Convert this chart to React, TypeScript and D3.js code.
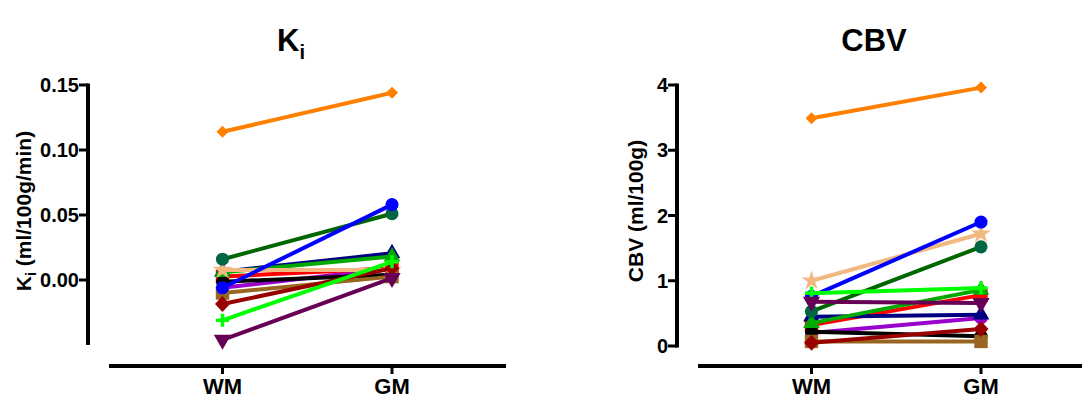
import React from "react";
import * as d3 from "d3";

// groups on the x axis
const groups = ["WM", "GM"];

// series: colour, marker, values for [WM, GM]
const seriesNames = ["s1", "s2", "s3", "s4", "s5", "s6", "s7", "s8", "s9", "s10", "s11", "s12", "s13"];
const lineColors = ["#9900cc", "#ff0000", "#000000", "#996622", "#000080", "#00aa00", "#f2b882", "#006600", "#0000ff", "#990000", "#00ff00", "#660055", "#ff8000"];
const markerColors = ["#9900cc", "#ff0000", "#000000", "#996622", "#000080", "#00aa00", "#f2b882", "#006644", "#0000ff", "#990000", "#00ff00", "#660055", "#ff8000"];
const markers = ["circle", "square", "circle", "square", "triangle", "triangle", "star", "circle", "circle", "diamond", "plus", "triangleDown", "diamondSmall"];

const kiValues: number[][] = [
  [-0.006, 0.009],
  [0.0026, 0.009],
  [-0.0013, 0.004],
  [-0.01, 0.0026],
  [0.0064, 0.0205],
  [0.006, 0.018],
  [0.0077, 0.0077],
  [0.016, 0.051],
  [-0.006, 0.058],
  [-0.0185, 0.009],
  [-0.031, 0.014],
  [-0.046, 0.0015],
  [0.114, 0.144],
];
const cbvValues: number[][] = [
  [0.2, 0.43],
  [0.32, 0.78],
  [0.22, 0.15],
  [0.07, 0.07],
  [0.45, 0.48],
  [0.35, 0.86],
  [1.0, 1.72],
  [0.53, 1.52],
  [0.76, 1.9],
  [0.05, 0.26],
  [0.81, 0.89],
  [0.68, 0.66],
  [3.49, 3.96],
];

const kiTicks = [0, 0.05, 0.1, 0.15];
const cbvTicks = [0, 1, 2, 3, 4];

const FONT = "'Liberation Sans', Arial, sans-serif";

function diamond(r: number, w: number): string {
  return `M0,${-r}L${w},0L0,${r}L${-w},0Z`;
}

function markerPath(kind: string): string {
  switch (kind) {
    case "circle": return d3.symbol(d3.symbolCircle, 135)()!;
    case "square": return d3.symbol(d3.symbolSquare, 180)()!;
    case "triangle": return d3.symbol(d3.symbolTriangle, 120)()!;
    case "triangleDown": return d3.symbol(d3.symbolTriangle, 130)()!;
    case "star": return d3.symbol(d3.symbolStar, 120)()!;
    case "diamond": return diamond(8, 7.5);
    case "diamondSmall": return diamond(6, 6);
    default: return "";
  }
}

function Marker({ kind, x, y, color }: { kind: string; x: number; y: number; color: string }) {
  if (kind === "plus") {
    return (
      <g transform={`translate(${x},${y})`} stroke={color} strokeWidth={3.5}>
        <line x1={-6.5} x2={6.5} y1={0} y2={0} />
        <line x1={0} x2={0} y1={-6.5} y2={6.5} />
      </g>
    );
  }
  const rot = kind === "triangleDown" ? " rotate(180)" : "";
  return <path d={markerPath(kind)} transform={`translate(${x},${y})${rot}`} fill={color} />;
}

type PanelProps = {
  left: number;
  values: number[][];
  domain: [number, number];
  ticks: number[];
  fmt: (v: number) => string;
  yLabel: React.ReactNode;
  title: React.ReactNode;
  titleX: number;
};

function Panel({ left, values, domain, ticks, fmt, yLabel, title, titleX }: PanelProps) {
  const axisX = left;
  const y = d3.scaleLinear().domain(domain).range([domain[0] < 0 ? 345 : 346, 85]);
  const x = d3.scalePoint<string>().domain(groups).range([axisX + 134.5, axisX + 304]);
  const xAxisStart = axisX + 21;
  const xAxisEnd = axisX + 418;
  const line = d3.line<[number, number]>().x(d => d[0]).y(d => d[1]);

  return (
    <g>
      <text x={titleX} y={51} textAnchor="middle" fontFamily={FONT} fontWeight="bold" fontSize={31}>{title}</text>

      {/* y axis */}
      <line x1={axisX} x2={axisX} y1={y.range()[1] - 1.5} y2={y.range()[0] + (domain[0] < 0 ? 0 : 1.5)} stroke="#000" strokeWidth={4} />
      {ticks.map(t => (
        <g key={t} transform={`translate(0,${y(t)})`}>
          <line x1={axisX - 9} x2={axisX} stroke="#000" strokeWidth={3} />
          <text x={axisX - 9} dy="0.36em" textAnchor="end" fontFamily={FONT} fontWeight="bold" fontSize={20}>{fmt(t)}</text>
        </g>
      ))}
      {yLabel}

      {/* x axis */}
      <line x1={xAxisStart} x2={xAxisEnd} y1={366} y2={366} stroke="#000" strokeWidth={4} />
      {groups.map(g => (
        <g key={g} transform={`translate(${x(g)},0)`}>
          <line y1={366} y2={374} stroke="#000" strokeWidth={3} />
          <text y={394} textAnchor="middle" fontFamily={FONT} fontWeight="bold" fontSize={22}>{g}</text>
        </g>
      ))}

      {/* series */}
      {seriesNames.map((name, i) => {
        const pts = values[i].map((v, j) => [x(groups[j])!, y(v)] as [number, number]);
        return (
          <g key={name}>
            <path d={line(pts)!} fill="none" stroke={lineColors[i]} strokeWidth={4} />
            {pts.map((p, j) => (
              <Marker key={j} kind={markers[i]} x={p[0]} y={p[1]} color={markerColors[i]} />
            ))}
          </g>
        );
      })}
    </g>
  );
}

export default function App() {
  return (
    <div style={{ position: "absolute", left: 0, top: 0 }}>
      <svg width={1082} height={401} style={{ display: "block", background: "#fff" }}>
        <Panel
          left={88}
          values={kiValues}
          domain={[-0.05, 0.15]}
          ticks={kiTicks}
          fmt={d3.format(".2f")}
          titleX={291}
          title={<>K<tspan fontSize={20} dy={8}>i</tspan></>}
          yLabel={
            <text transform="translate(31,211) rotate(-90)" textAnchor="middle" fontFamily={FONT} fontWeight="bold" fontSize={21}>
              K<tspan fontSize={14} dy={5}>i</tspan><tspan dy={-5}> (ml/100g/min)</tspan>
            </text>
          }
        />
        <Panel
          left={677}
          values={cbvValues}
          domain={[0, 4]}
          ticks={cbvTicks}
          fmt={d3.format("d")}
          titleX={874}
          title="CBV"
          yLabel={
            <text transform="translate(643,211) rotate(-90)" textAnchor="middle" fontFamily={FONT} fontWeight="bold" fontSize={21}>
              CBV (ml/100g)
            </text>
          }
        />
      </svg>
    </div>
  );
}
